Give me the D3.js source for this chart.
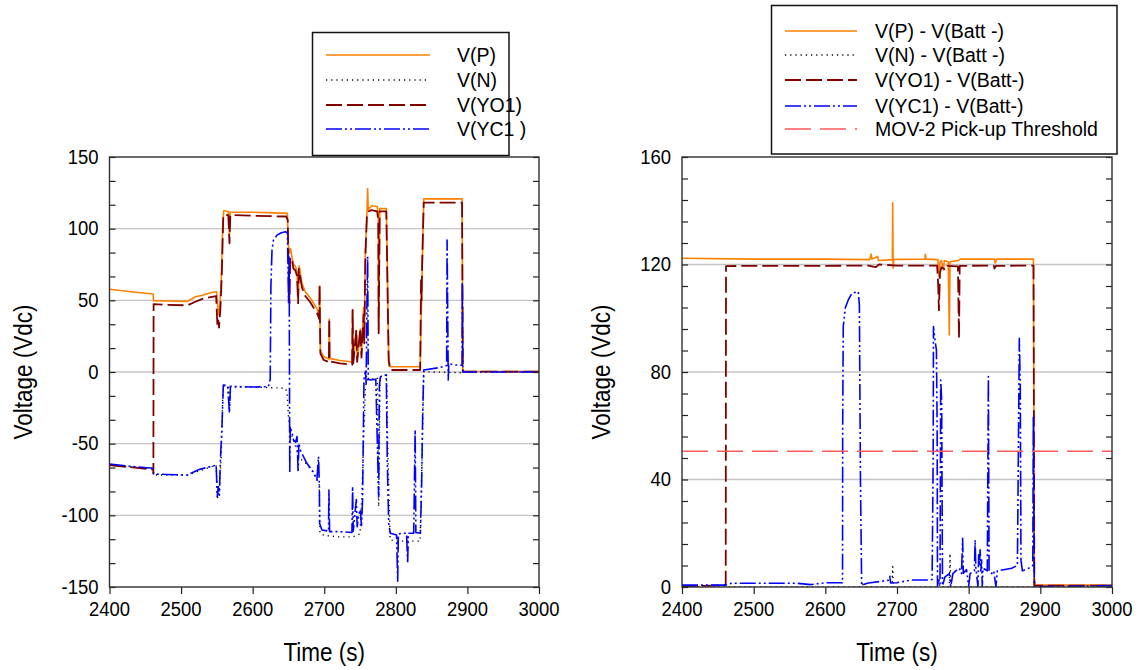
<!DOCTYPE html>
<html>
<head>
<meta charset="utf-8">
<script src="https://cdn.jsdelivr.net/npm/d3@7"></script>
<style>
  body { margin: 0; background: #fff; }
  svg text { font-family: "Liberation Sans", Arial, sans-serif; fill: #000; }
</style>
</head>
<body>
<svg id="chart" width="1142" height="670"></svg>
<script>
// ---------- Left panel: node voltages (Vdc) vs time (s) ----------
const leftP = [[2400,57.7],[2430,56],[2461,54.4],[2461.5,49.8],[2480,49.5],[2509,49.3],[2520,52.5],[2530,53.5],[2541,55.3],[2549.5,56],[2551,47],[2552.5,40],[2554,44],[2556,62],[2558,100],[2559.5,112.5],[2566,112],[2567.5,95],[2568.5,111.5],[2600,111.5],[2630,111],[2648.5,110.7],[2650,88],[2651.5,83],[2653,86],[2655,80],[2657,75],[2659.5,74],[2662,70],[2663.5,52],[2665,74],[2668.8,62],[2673.4,56],[2680,52],[2690,44],[2693,40],[2693.5,60],[2694,38],[2694.6,15],[2699,10.8],[2706.5,9],[2707,37],[2707.5,9.5],[2722,8],[2739,7],[2739.6,43],[2740.5,8],[2744.8,29],[2746,9],[2750.4,30],[2752,12],[2755,45],[2756,25],[2757.4,83],[2759.7,112],[2760.6,128],[2761.5,113],[2766,116],[2774,115.5],[2775.5,110],[2776,30],[2777.5,114],[2786.7,114],[2788,80],[2790,10],[2792,3.7],[2834,3.7],[2835.5,40],[2836.6,65],[2838,100],[2839,120.8],[2892.5,120.8],[2893.6,2],[2894,0.4],[3000,0.3]];

const leftN = [[2400,-65],[2461,-67.5],[2462,-71.8],[2509,-72],[2525,-69],[2549,-65],[2551,-88],[2553,-84],[2556,-60],[2558,-20],[2559.5,-9.5],[2566,-10],[2567.5,-27],[2568.5,-10.5],[2600,-10.5],[2645.5,-11.3],[2648,-14],[2650,-31],[2652,-40],[2655,-45],[2660,-52],[2665,-60],[2675,-64],[2685,-70],[2690,-75],[2693,-78],[2694,-112.5],[2700,-114],[2720,-115],[2740,-115],[2750,-113],[2753,-80],[2755.5,-40],[2757.6,-10.2],[2760,-5.6],[2774,-4],[2776,-94],[2778,-3],[2787,-2.5],[2789,-60],[2792,-117],[2800,-118],[2834,-118],[2837,-50],[2839,0.2],[2892,-0.5],[2894,0],[3000,0]];

const leftYO1 = [[2400,-65],[2461,-68],[2461.3,-70.7],[2461.6,47.4],[2480,46.8],[2509,46.5],[2520,49],[2530,51],[2549,53],[2550.8,31.6],[2552,36],[2553,31],[2555,45],[2557,70],[2559,109.5],[2566,109.5],[2567.6,89.8],[2568.8,109.5],[2600,109],[2647,108.5],[2649,106],[2650.5,60],[2651.5,48],[2652.5,80],[2655,78],[2657,72],[2659.5,71],[2662,67],[2663.5,48],[2664.5,72],[2668.8,59],[2673.4,53],[2680,49],[2690,41],[2693,37],[2693.5,60.7],[2694,36],[2694.6,13],[2699,8.5],[2706.5,7],[2707,37.4],[2707.5,7.5],[2722,6],[2739,5],[2739.6,43.3],[2740.5,6],[2744.8,29.3],[2746,7],[2750.4,30.5],[2752,10],[2755,40],[2756,20],[2757.4,80],[2759.7,110],[2762,112],[2766,113],[2774,112],[2775.5,105],[2776,27],[2777.5,112],[2786.7,112],[2788,70],[2790,8],[2792,1.4],[2834,1.4],[2835.2,64],[2836,50],[2836.6,72],[2838,100],[2839,118.1],[2892.5,118.1],[2893.6,1],[2894,0.2],[3000,0.2]];

const leftYC1 = [[2400,-64.2],[2430,-65.8],[2461,-67.2],[2461.5,-71.2],[2480,-71.5],[2509,-71.9],[2525,-68],[2549,-65],[2550.5,-87],[2552,-80],[2553.5,-86],[2555,-60],[2557,-40],[2559,-9.1],[2565,-9.5],[2567.6,-28.8],[2569,-10],[2600,-10.5],[2622,-10.2],[2624.5,-5],[2625.5,60],[2627,85],[2629,92],[2634,95.5],[2640,97.2],[2646,97.9],[2648.5,97],[2649.5,70],[2650.1,47.9],[2651,80],[2651.8,-70.7],[2652.5,-38],[2654.8,-42],[2657.1,-47.4],[2660,-49],[2662,-45],[2663.5,-70],[2664.5,-49.7],[2666.4,-54.4],[2675.7,-63.7],[2685,-70],[2689.7,-75.3],[2692,-59.1],[2693.2,-80],[2693.5,-105.6],[2696.7,-110.2],[2706,-111],[2706.5,-82.3],[2707.5,-111.4],[2722.4,-111.4],[2738.7,-112],[2739.6,-80],[2740.5,-111],[2744.8,-89],[2746,-108],[2748,-100],[2750.4,-96],[2752,-108],[2753.5,-90],[2755.5,-5],[2757.6,1.4],[2758.5,-8],[2759.7,50],[2760.6,80.5],[2761.5,-5],[2765,-5.6],[2772,-5],[2773.7,-40],[2776,-87],[2777,-10],[2778.3,-3.5],[2786.7,-2],[2788,-60],[2790,-105.6],[2792.3,-112.5],[2801,-113.7],[2802.6,-146],[2803.5,-113],[2810,-112.5],[2815,-112.5],[2816.5,-133.5],[2817.5,-112.5],[2825,-112.5],[2827,-40.5],[2828,-112],[2834.3,-112.5],[2836,-80],[2837.5,-30],[2839,1.4],[2860,3],[2871,4.5],[2871.6,92.1],[2872.5,40],[2873.2,-5.6],[2874,5.9],[2880,5],[2892.5,4.7],[2892.8,63],[2893.5,0],[3000,0]];

// ---------- Right panel: voltages referenced to Batt- ----------
const rightP = [[2400,122.3],[2500,122],[2600,122],[2662,121.8],[2664,123.9],[2665,122],[2673,123],[2674,121.5],[2693.5,121.8],[2694,143],[2694.6,118.6],[2695.5,121.9],[2739,122],[2739.5,123.8],[2740.5,122],[2757,121.8],[2758.5,115.5],[2760,121],[2762,121.5],[2765,118],[2766,121.5],[2771.5,121],[2773,93.8],[2774,121],[2786,121.5],[2788,122],[2836,122],[2837,120.6],[2839,122],[2890.3,122],[2891.2,60],[2891.6,0.7],[3000,0.7]];

const rightN = [[2400,0],[2650,0],[2652,2],[2653,0],[2693,0],[2694,7.6],[2695,0],[2756,0],[2758,3],[2760,0],[2773,0],[2774,12.5],[2775,0],[2891,0],[2892,2.6],[2893,0],[3000,0]];

const rightYO1 = [[2400,0.3],[2440,0.5],[2461,0.7],[2461.4,119.4],[2500,119.5],[2600,119.5],[2660,119.6],[2670,119],[2675,120],[2700,119.6],[2756,119.6],[2757.5,112],[2758.5,103],[2760,117],[2762,119],[2768,118],[2770,119.5],[2785,119.3],[2786.5,92.5],[2787.5,119.5],[2835,119.6],[2836,118.5],[2838,119.5],[2890.5,119.6],[2891.6,0.5],[3000,0.5]];

const rightYC1 = [[2400,0.7],[2460,0.7],[2470,1.4],[2560,1.4],[2580,0.9],[2600,1.6],[2624,1.6],[2624.2,60],[2625,96.9],[2628,104],[2632,106.8],[2637,109.3],[2646,109.9],[2647.5,105],[2649,40],[2650.7,0.7],[2660,1.5],[2675,2],[2688,2.5],[2690,4],[2691,1.5],[2700,1.6],[2720,2.6],[2745,2.6],[2749,2.8],[2750.5,50],[2750.9,96.9],[2753,91.9],[2755,88.2],[2756,60],[2756.5,0.3],[2758,3],[2760,1],[2761,77],[2762.3,69.6],[2763.5,0.5],[2767,3.8],[2773,5],[2775,0.2],[2778,5],[2782,6],[2787,7],[2790,5],[2791.6,18.1],[2792.5,5],[2797,6.5],[2800,0.2],[2802,5],[2808,6],[2809,17.5],[2810,7],[2813,0.2],[2814,12],[2815,8],[2816,13.8],[2817,6],[2818,10],[2819,0.2],[2820,7],[2826,6],[2827.5,78.3],[2828.5,6],[2832,5],[2835,6],[2838,0.2],[2840,6],[2860,7],[2868,8],[2870.7,92.5],[2872,74.5],[2873,10],[2875,6],[2880,6.5],[2888,7.6],[2889.5,8],[2890.2,63.4],[2891.6,0.15],[3000,0.5]];

const movThreshold = 50.5;

// ---------- Axis settings ----------
const timeDomain = [2400, 3000];
const timeTicks = [2400, 2500, 2600, 2700, 2800, 2900, 3000];
const leftYTicks = [-150, -100, -50, 0, 50, 100, 150];
const leftGrid = [-100, -50, 0, 50, 100];
const rightYTicks = [0, 40, 80, 120, 160];
const rightGrid = [40, 80, 120];

const leftLegend = ["V(P)", "V(N)", "V(YO1)", "V(YC1 )"];
const rightLegend = ["V(P) - V(Batt -)", "V(N) - V(Batt -)", "V(YO1) - V(Batt-)", "V(YC1) - V(Batt-)", "MOV-2 Pick-up Threshold"];

const styles = {
  P:   {stroke: "#ff8000", width: 1.6, dash: null},
  N:   {stroke: "#000000", width: 1.4, dash: "1.2,4"},
  YO1: {stroke: "#800000", width: 1.8, dash: "16,5"},
  YC1: {stroke: "#0000ff", width: 1.6, dash: "16,3,2,3,2,3"},
  MOV: {stroke: "#ff5a5a", width: 1.6, dash: "26,9"}
};

const svg = d3.select("#chart");
const textScale = 0.9;

function drawPanel(cfg) {
  const x = d3.scaleLinear().domain(timeDomain).range([cfg.left, cfg.right]);
  const y = d3.scaleLinear().domain(cfg.yDomain).range([cfg.bottom, cfg.top]);
  const g = svg.append("g");
  const clipId = "clip" + cfg.id;

  g.append("clipPath").attr("id", clipId).append("rect")
    .attr("x", cfg.left).attr("y", cfg.top)
    .attr("width", cfg.right - cfg.left).attr("height", cfg.bottom - cfg.top);

  // horizontal grid
  g.selectAll("line.grid").data(cfg.grid).join("line")
    .attr("x1", cfg.left).attr("x2", cfg.right)
    .attr("y1", d => y(d)).attr("y2", d => y(d))
    .attr("stroke", "#c4c4c4").attr("stroke-width", 1.3);

  // series
  const line = d3.line().x(d => x(d[0])).y(d => y(d[1]));
  const plot = g.append("g").attr("clip-path", `url(#${clipId})`);
  cfg.series.forEach(s => {
    const st = styles[s.key];
    plot.append("path").datum(s.data)
      .attr("d", line).attr("fill", "none")
      .attr("stroke", st.stroke).attr("stroke-width", st.width)
      .attr("stroke-dasharray", st.dash)
      .attr("stroke-linejoin", "round");
  });
  if (cfg.threshold !== undefined) {
    plot.append("path").datum(timeDomain.map(t => [t, cfg.threshold]))
      .attr("d", line).attr("fill", "none")
      .attr("stroke", styles.MOV.stroke).attr("stroke-width", styles.MOV.width)
      .attr("stroke-dasharray", styles.MOV.dash);
  }

  // y minor/major ticks, pointing inward on both sides
  const yTickVals = d3.range(cfg.yDomain[0], cfg.yDomain[1] + 1e-6, cfg.yStep);
  g.append("g").attr("transform", `translate(${cfg.left},0)`)
    .call(d3.axisLeft(y).tickValues(yTickVals).tickSize(-6).tickFormat(""));
  g.append("g").attr("transform", `translate(${cfg.right},0)`)
    .call(d3.axisRight(y).tickValues(yTickVals).tickSize(-6).tickFormat(""));
  // x ticks, outward
  g.append("g").attr("transform", `translate(0,${cfg.bottom})`)
    .call(d3.axisBottom(x).tickValues(timeTicks).tickSize(7).tickFormat(""));
  g.selectAll(".domain").remove();
  g.selectAll(".tick line").attr("stroke", "#222").attr("stroke-width", 1.2);

  // frame
  g.append("rect").attr("x", cfg.left).attr("y", cfg.top)
    .attr("width", cfg.right - cfg.left).attr("height", cfg.bottom - cfg.top)
    .attr("fill", "none").attr("stroke", "#303030").attr("stroke-width", 1.4);

  // tick labels
  g.selectAll("text.xt").data(timeTicks).join("text")
    .attr("transform", d => `translate(${x(d)},${cfg.bottom + 29}) scale(${textScale},1)`)
    .attr("text-anchor", "middle").attr("font-size", 20.5).text(d => d);
  g.selectAll("text.yt").data(cfg.yTicks).join("text")
    .attr("transform", d => `translate(${cfg.left - 11},${y(d) + 6.5}) scale(${textScale},1)`)
    .attr("text-anchor", "end").attr("font-size", 20.5).text(d => d);

  // axis titles
  g.append("text")
    .attr("transform", `translate(${(cfg.left + cfg.right) / 2},${cfg.bottom + 74}) scale(${textScale},1)`)
    .attr("text-anchor", "middle").attr("font-size", 25).text("Time (s)");
  g.append("text")
    .attr("transform", `translate(${cfg.titleX},${(cfg.top + cfg.bottom) / 2}) rotate(-90) scale(${textScale},1)`)
    .attr("text-anchor", "middle").attr("font-size", 25).text("Voltage (Vdc)");
}

function drawLegend(cfg) {
  const g = svg.append("g");
  g.append("rect").attr("x", cfg.x).attr("y", cfg.y)
    .attr("width", cfg.w).attr("height", cfg.h)
    .attr("fill", "#fff").attr("stroke", "#111").attr("stroke-width", 1.5);
  cfg.items.forEach((it, i) => {
    const yy = cfg.rows[i];
    const st = styles[it.key];
    g.append("line").attr("x1", cfg.lx0).attr("x2", cfg.lx1)
      .attr("y1", yy).attr("y2", yy)
      .attr("stroke", st.stroke).attr("stroke-width", st.width)
      .attr("stroke-dasharray", st.dash);
    g.append("text").attr("x", cfg.tx).attr("y", yy + 7)
      .attr("font-size", 19.5).text(it.label);
  });
}

drawPanel({
  id: "L", left: 109.5, right: 539, top: 157, bottom: 587,
  yDomain: [-150, 150], yStep: 50 / 3, yTicks: leftYTicks, grid: leftGrid,
  titleX: 32,
  series: [
    {key: "P", data: leftP}, {key: "N", data: leftN},
    {key: "YO1", data: leftYO1}, {key: "YC1", data: leftYC1}
  ]
});

drawPanel({
  id: "R", left: 682, right: 1112, top: 157, bottom: 587,
  yDomain: [0, 160], yStep: 8, yTicks: rightYTicks, grid: rightGrid,
  titleX: 610, threshold: movThreshold,
  series: [
    {key: "P", data: rightP}, {key: "N", data: rightN},
    {key: "YO1", data: rightYO1}, {key: "YC1", data: rightYC1}
  ]
});

drawLegend({
  x: 312.5, y: 32.5, w: 196.5, h: 123,
  lx0: 326, lx1: 430, tx: 457, rows: [55, 80, 105, 129],
  items: leftLegend.map((label, i) => ({label, key: ["P", "N", "YO1", "YC1"][i]}))
});

drawLegend({
  x: 771.5, y: 5.5, w: 345.5, h: 148.5,
  lx0: 785, lx1: 857, tx: 875, rows: [31, 55, 80, 106, 129],
  items: rightLegend.map((label, i) => ({label, key: ["P", "N", "YO1", "YC1", "MOV"][i]}))
});
</script>
</body>
</html>
